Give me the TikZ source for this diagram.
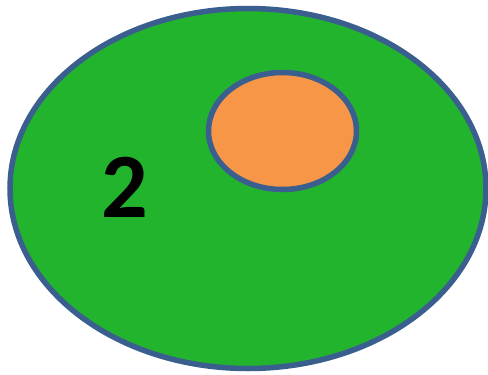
\documentclass[tikz,border=0pt]{standalone}
\usepackage{fontspec}
\setmainfont{Carlito}
\usepackage{tikz}
\definecolor{cellgreen}{HTML}{23B42E}
\definecolor{cellrim}{HTML}{3A5F8E}
\definecolor{coreorange}{HTML}{F79646}

\begin{document}
\begin{tikzpicture}[x=1pt, y=-1pt,
  rim/.style={draw=cellrim, line width=5.5pt},
  lbl/.style={font=\fontsize{92}{92}\selectfont\bfseries, inner sep=0pt},
]
\useasboundingbox (0,0) rectangle (488,375);
% outer cell
\draw[rim, fill=cellgreen] (248,188.5) ellipse [x radius=238, y radius=180];
% inner core
\draw[rim, fill=coreorange] (282.5,131) ellipse [x radius=74, y radius=58.5];
\node[lbl] (num) at (125,187.5) {2};
\end{tikzpicture}
\end{document}
